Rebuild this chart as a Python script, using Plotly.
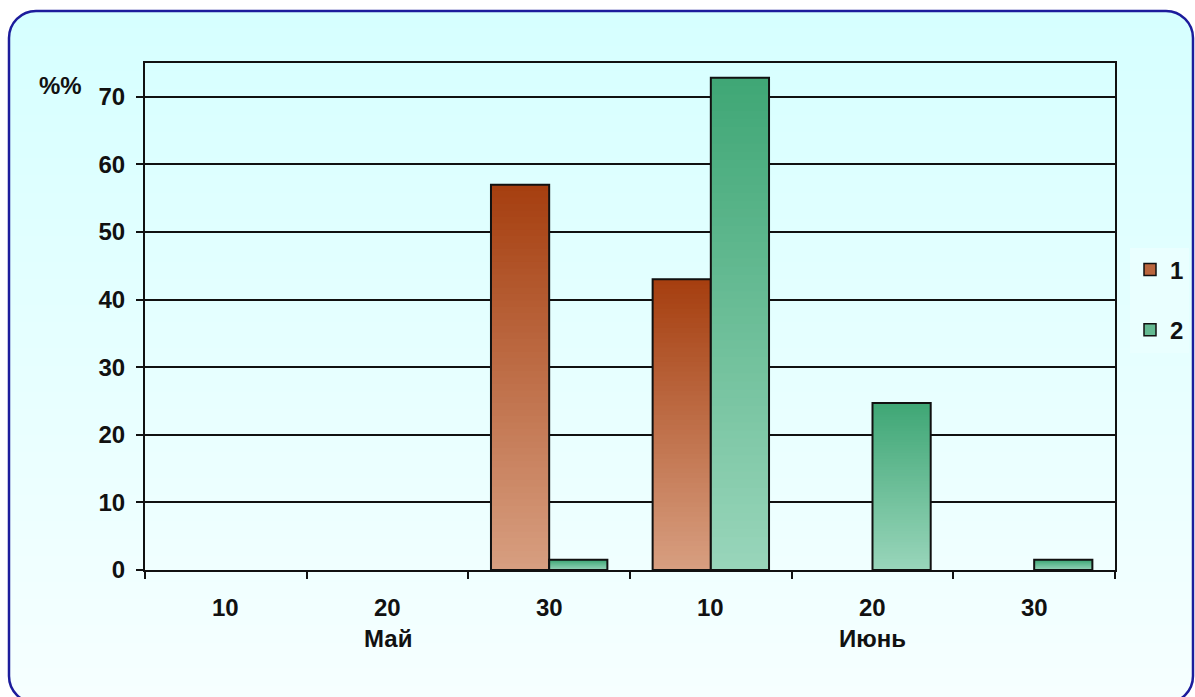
import plotly.graph_objects as go

W, H = 1195, 697

months = ["Май"] * 3 + ["Июнь"] * 3
days = ["10", "20", "30"] * 2
series_names = ["1", "2"]
series_1 = [None, None, 57, 43, None, None]
series_2 = [None, None, 1.5, 72.8, 24.7, 1.5]

# bottom (light) -> top (dark) shades for each series
shade_1 = ((215, 158, 128), (166, 63, 16))
shade_2 = ((152, 213, 186), (64, 167, 118))

# plot area in pixels
PL, PR, PT, PB = 145, 1115, 63, 570


def px_x(px):
    return (px - PL) / (PR - PL)


def px_y(py):
    return (PB - py) / (PB - PT)


def mix(c0, c1, t):
    r, g, b = (round(a + (b_ - a) * t) for a, b_ in zip(c0, c1))
    return f"rgb({r},{g},{b})"


x = [months, days]
fig = go.Figure()

N = 60
for name, values, shade in zip(series_names, [series_1, series_2], [shade_1, shade_2]):
    # each slice runs from its base to the top of the bar, so later slices cover earlier ones
    for k in range(N):
        fig.add_trace(
            go.Bar(
                x=x,
                y=[v * (N - k) / N if v is not None else None for v in values],
                base=[v * k / N if v is not None else None for v in values],
                offsetgroup=name,
                marker=dict(color=mix(shade[0], shade[1], k / (N - 1)), line_width=0),
                showlegend=False,
                hoverinfo="skip",
            )
        )
    fig.add_trace(
        go.Bar(
            x=x,
            y=values,
            offsetgroup=name,
            marker=dict(color="rgba(0,0,0,0)", line=dict(color="#111111", width=2)),
            showlegend=False,
        )
    )
    fig.add_trace(
        go.Bar(
            x=x,
            y=[None] * len(values),
            name=name,
            offsetgroup=name,
            legendgroup=name,
            marker=dict(color=mix(shade[0], shade[1], 0.6), line=dict(color="#111111", width=1.5)),
        )
    )

# background gradient + rounded frame
FL, FR, FT, FB, R = 9, 1193, 11, 703, 27
top_c, bot_c = (214, 255, 255), (246, 255, 255)
shapes = []
bands = 80
for i in range(bands):
    y0 = FT + (FB - FT) * i / bands
    y1 = FT + (FB - FT) * (i + 1) / bands + 0.8
    shapes.append(
        dict(
            type="rect", xref="paper", yref="paper", layer="below",
            x0=px_x(FL), x1=px_x(FR), y0=px_y(y0), y1=px_y(min(y1, FB)),
            fillcolor=mix(top_c, bot_c, i / (bands - 1)), line_width=0,
        )
    )

K = 0.4477  # 1 - 0.5523, control offset for circular arcs


def P(px, py):
    return f"{px_x(px):.5f},{px_y(py):.5f}"


corners = [
    # corner point, start point, c1, c2, end point
    ((FL, FT), (FL + R, FT), (FL + R * K, FT), (FL, FT + R * K), (FL, FT + R)),
    ((FR, FT), (FR, FT + R), (FR, FT + R * K), (FR - R * K, FT), (FR - R, FT)),
    ((FR, FB), (FR - R, FB), (FR - R * K, FB), (FR, FB - R * K), (FR, FB - R)),
    ((FL, FB), (FL, FB - R), (FL, FB - R * K), (FL + R * K, FB), (FL + R, FB)),
]
for c, s, c1, c2, e in corners:
    shapes.append(
        dict(
            type="path", xref="paper", yref="paper", layer="below",
            path=f"M{P(*c)} L{P(*s)} C{P(*c1)} {P(*c2)} {P(*e)} Z",
            fillcolor="white", line_width=0,
        )
    )

frame = (
    f"M{P(FL + R, FT)} L{P(FR - R, FT)} C{P(FR - R * K, FT)} {P(FR, FT + R * K)} {P(FR, FT + R)} "
    f"L{P(FR, FB - R)} C{P(FR, FB - R * K)} {P(FR - R * K, FB)} {P(FR - R, FB)} "
    f"L{P(FL + R, FB)} C{P(FL + R * K, FB)} {P(FL, FB - R * K)} {P(FL, FB - R)} "
    f"L{P(FL, FT + R)} C{P(FL, FT + R * K)} {P(FL + R * K, FT)} {P(FL + R, FT)} Z"
)
shapes.append(
    dict(type="path", xref="paper", yref="paper", layer="below", path=frame,
         line=dict(color="#1c1c9c", width=2.5))
)

# category labels: days under each bar group, months centred under their days
annotations = [
    dict(text="%%", x=px_x(60), y=px_y(85), xref="paper", yref="paper",
         showarrow=False, xanchor="center", yanchor="middle")
]
for i, d in enumerate(days):
    annotations.append(
        dict(text=d, x=i, y=px_y(607), xref="x", yref="paper",
             showarrow=False, xanchor="center", yanchor="middle")
    )
for m in dict.fromkeys(months):
    idx = [i for i, mm in enumerate(months) if mm == m]
    annotations.append(
        dict(text=m, x=sum(idx) / len(idx), y=px_y(638), xref="x", yref="paper",
             showarrow=False, xanchor="center", yanchor="middle")
    )

fig.update_layout(
    width=W,
    height=H,
    margin=dict(l=PL, r=W - PR, t=PT, b=H - PB, autoexpand=False),
    paper_bgcolor="white",
    plot_bgcolor="rgba(0,0,0,0)",
    font=dict(family="Liberation Sans, Arial, sans-serif", size=24, color="#111111", weight="bold"),
    barmode="group",
    bargap=0.28,
    bargroupgap=0,
    shapes=shapes,
    annotations=annotations,
    showlegend=True,
    legend=dict(
        x=px_x(1130), y=px_y(300), xanchor="left", yanchor="middle",
        bgcolor="#eaffff", borderwidth=0, tracegroupgap=26,
        font=dict(size=24),
    ),
)
fig.update_xaxes(
    type="multicategory",
    showline=True, linecolor="#111111", linewidth=2, mirror=True,
    ticks="outside", ticklen=7, tickwidth=2, tickcolor="#111111",
    showdividers=False, showgrid=False, showticklabels=False,
)
fig.update_yaxes(
    range=[0, 75], dtick=10,
    showline=True, linecolor="#111111", linewidth=2, mirror=True,
    ticks="outside", ticklen=7, tickwidth=2, tickcolor="#111111",
    gridcolor="#111111", gridwidth=1.5, zeroline=False, ticklabelstandoff=6,
)

# drop the default body margin so the figure sits at the page's top-left corner
fig.write_html(
    "out.html",
    config={"displayModeBar": False},
    post_script="document.body.style.margin='0';document.body.style.overflow='hidden';",
)
